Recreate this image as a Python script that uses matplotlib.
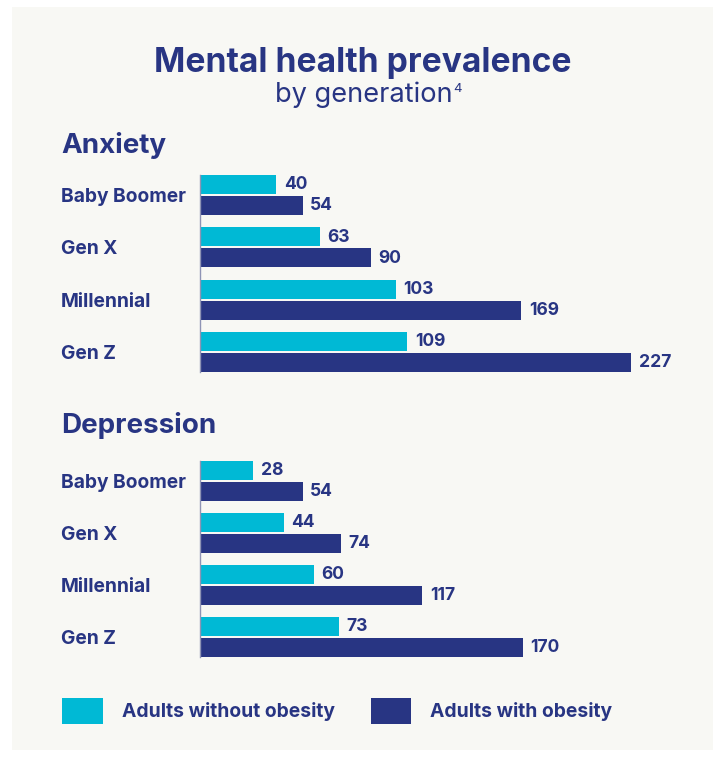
import matplotlib
matplotlib.use("Agg")
import matplotlib.pyplot as plt
from matplotlib.patches import Rectangle
import matplotlib.transforms as mtransforms

plt.rcParams['font.family'] = ['Inter', 'DejaVu Sans']

generations = ["Baby Boomer", "Gen X", "Millennial", "Gen Z"]
anxiety_without = [40, 63, 103, 109]
anxiety_with = [54, 90, 169, 227]
depression_without = [28, 44, 60, 73]
depression_with = [54, 74, 117, 170]
series_labels = ["Adults without obesity", "Adults with obesity"]

CYAN = "#00b9d5"
NAVY = "#283583"
PANEL = "#f8f8f4"
AXIS_LINE = "#8f94b5"

W, H = 722, 757
fig = plt.figure(figsize=(W / 100, H / 100), dpi=100, facecolor="white")


def fx(px):
    return px / W


def fy(py):
    return 1 - py / H


# light panel behind the whole graphic
fig.patches.append(Rectangle((fx(12), fy(750)), fx(713) - fx(12), fy(7) - fy(750),
                             transform=fig.transFigure, facecolor=PANEL,
                             edgecolor="none", zorder=-10))

fig.text(fx(363), fy(72), "Mental health prevalence", ha="center", va="baseline",
         fontsize=24.2, fontweight="bold", color=NAVY)
sub = fig.text(fx(275), fy(102), "by generation", ha="left", va="baseline",
               fontsize=19.6, color=NAVY)
fig.canvas.draw()
sub_box = sub.get_window_extent()
fig.text((sub_box.x1 + 1) / W, fy(92.5), "4", ha="left", va="baseline",
         fontsize=9.5, color=NAVY)

OFFSET = 0.2
BAR_H = 0.36
X_MAX = 260
LEFT_PX = 200


def panel(title, title_base, top_px, bottom_px, without, with_):
    ax = fig.add_axes([fx(LEFT_PX), fy(bottom_px), fx(LEFT_PX + X_MAX * 1.9) - fx(LEFT_PX),
                       fy(top_px) - fy(bottom_px)])
    ax.set_facecolor("none")
    pos = list(range(len(generations)))
    b1 = ax.barh([p - OFFSET for p in pos], without, height=BAR_H, color=CYAN)
    b2 = ax.barh([p + OFFSET for p in pos], with_, height=BAR_H, color=NAVY)
    ax.set_xlim(0, X_MAX)
    ax.set_ylim(len(generations) - 1 + OFFSET + BAR_H / 2, -OFFSET - BAR_H / 2)
    for s in ["top", "right", "bottom"]:
        ax.spines[s].set_visible(False)
    ax.spines["left"].set_color(AXIS_LINE)
    ax.spines["left"].set_linewidth(1.0)
    ax.set_xticks([])
    ax.set_yticks([])
    for bars, vals in ((b1, without), (b2, with_)):
        for rect, v in zip(bars, vals):
            ax.annotate(str(v), xy=(v, rect.get_y() + rect.get_height() / 2),
                        xytext=(5.5, -3.4), textcoords="offset points",
                        ha="left", va="baseline", fontsize=12.6,
                        fontweight="bold", color=NAVY)
    trans = mtransforms.blended_transform_factory(fig.transFigure, ax.transData)
    for p, name in zip(pos, generations):
        ax.annotate(name, xy=(fx(61), p), xycoords=trans,
                    xytext=(0, -5), textcoords="offset points",
                    ha="left", va="baseline", fontsize=13.8,
                    fontweight="bold", color=NAVY)
    fig.text(fx(61), fy(title_base), title, ha="left", va="baseline",
             fontsize=20, fontweight="bold", color=NAVY)
    return b1, b2


h1, h2 = panel("Anxiety", 153, 175, 372, anxiety_without, anxiety_with)
panel("Depression", 433, 461, 657, depression_without, depression_with)

leg = fig.legend([h1, h2], series_labels, loc="center left",
                 bbox_to_anchor=(fx(62), fy(711)), ncol=2, frameon=False,
                 borderpad=0, borderaxespad=0, fontsize=13.9,
                 handlelength=2.1, handleheight=1.75, handletextpad=1.0,
                 columnspacing=1.85)
for t in leg.get_texts():
    t.set_color(NAVY)
    t.set_fontweight("bold")

fig.savefig("out.png", dpi=100, facecolor="white")
